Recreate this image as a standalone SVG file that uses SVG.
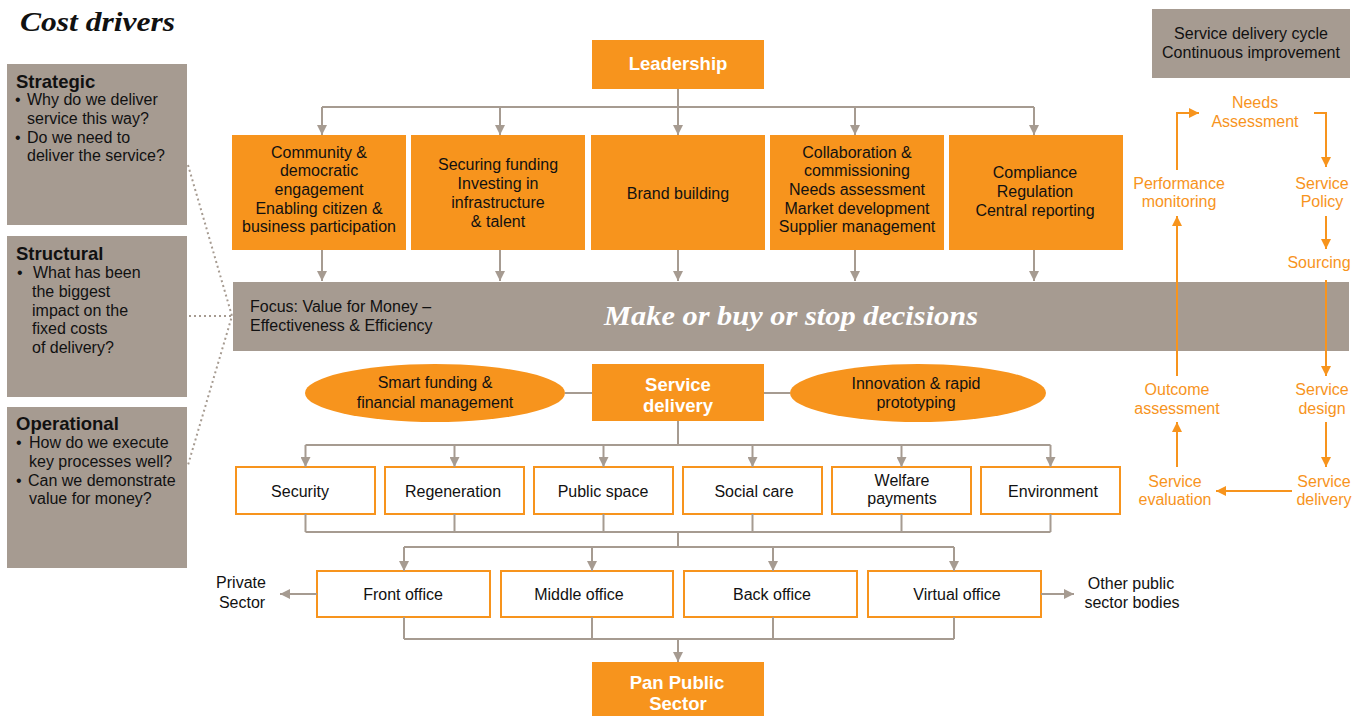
<svg xmlns="http://www.w3.org/2000/svg" width="1366" height="716" viewBox="0 0 1366 716">
<defs>
<marker id="ag" markerUnits="userSpaceOnUse" markerWidth="11" markerHeight="10" refX="10" refY="5" orient="auto"><path d="M0,0 L10,5 L0,10 z" fill="#a69b91"/></marker>
<marker id="ao" markerUnits="userSpaceOnUse" markerWidth="11" markerHeight="10" refX="10" refY="5" orient="auto"><path d="M0,0 L10,5 L0,10 z" fill="#f7941d"/></marker>
<style>
text{font-family:"Liberation Sans",Arial,sans-serif;font-size:16px;fill:#111}
.c{text-anchor:middle}
.b{font-weight:bold;font-size:18.5px}
.w{fill:#fff}
.o{fill:#f7941d}
.ser{font-family:"Liberation Serif","DejaVu Serif",serif;font-weight:bold;font-style:italic}
.gray{fill:#a69b91}
.orb{fill:#f7941d}
.wb{fill:#fff;stroke:#f7941d;stroke-width:2}
.lg{fill:none;stroke:#a69b91;stroke-width:2}
.lga{fill:none;stroke:#a69b91;stroke-width:2;marker-end:url(#ag)}
.loa{fill:none;stroke:#f7941d;stroke-width:2;marker-end:url(#ao)}
.dot{fill:none;stroke:#a69b91;stroke-width:2;stroke-dasharray:2 3}
</style>
</defs>
<rect width="1366" height="716" fill="#fff"/>
<text x="20" y="31" class="ser" style="font-size:28px;fill:#111" textLength="155" lengthAdjust="spacingAndGlyphs">Cost drivers</text>

<g id="strategic">
<rect x="7" y="64" width="180" height="161" class="gray"/>
<text x="16" y="88" class="b">Strategic</text>
<text x="15" y="105">•</text><text x="27" y="105">Why do we deliver</text>
<text x="27" y="124">service this way?</text>
<text x="15" y="143">•</text><text x="27" y="143">Do we need to</text>
<text x="27" y="161">deliver the service?</text>
</g>
<g id="structural">
<rect x="7" y="236" width="180" height="161" class="gray"/>
<text x="16" y="260" class="b">Structural</text>
<text x="17" y="278">•</text><text x="33" y="278">What has been</text>
<text x="32" y="297">the biggest</text>
<text x="32" y="316">impact on the</text>
<text x="32" y="334">fixed costs</text>
<text x="32" y="353">of delivery?</text>
</g>
<g id="operational">
<rect x="7" y="407" width="180" height="161" class="gray"/>
<text x="16" y="430" class="b">Operational</text>
<text x="16" y="448">•</text><text x="29" y="448">How do we execute</text>
<text x="29" y="467">key processes well?</text>
<text x="16" y="486">•</text><text x="28" y="486">Can we demonstrate</text>
<text x="29" y="504">value for money?</text>
</g>

<g id="dotted">
<path class="dot" d="M188,165 L232,316 L188,465 M189,316 H232"/>
</g>

<g id="leadership">
<rect x="592" y="40" width="172" height="49" class="orb"/>
<text x="678" y="70" class="c b w">Leadership</text>
</g>
<g id="community">
<rect x="232" y="135" width="174" height="115" class="orb"/>
<text class="c" x="319" y="158">Community &amp;</text>
<text class="c" x="319" y="176">democratic</text>
<text class="c" x="319" y="195">engagement</text>
<text class="c" x="319" y="214">Enabling citizen &amp;</text>
<text class="c" x="319" y="232">business participation</text>
</g>
<g id="funding">
<rect x="411" y="135" width="174" height="115" class="orb"/>
<text class="c" x="498" y="170">Securing funding</text>
<text class="c" x="498" y="189">Investing in</text>
<text class="c" x="498" y="208">infrastructure</text>
<text class="c" x="498" y="227">&amp; talent</text>
</g>
<g id="brand">
<rect x="591" y="135" width="174" height="115" class="orb"/>
<text class="c" x="678" y="199">Brand building</text>
</g>
<g id="collab">
<rect x="770" y="135" width="174" height="115" class="orb"/>
<text class="c" x="857" y="158">Collaboration &amp;</text>
<text class="c" x="857" y="176">commissioning</text>
<text class="c" x="857" y="195">Needs assessment</text>
<text class="c" x="857" y="214">Market development</text>
<text class="c" x="857" y="232">Supplier management</text>
</g>
<g id="compliance">
<rect x="949" y="135" width="174" height="115" class="orb"/>
<text class="c" x="1035" y="178">Compliance</text>
<text class="c" x="1035" y="197">Regulation</text>
<text class="c" x="1035" y="216">Central reporting</text>
</g>

<g id="focusbar">
<rect x="233" y="282" width="1116" height="69" class="gray"/>
<text x="250" y="312">Focus: Value for Money –</text>
<text x="250" y="331">Effectiveness &amp; Efficiency</text>
<text x="604" y="325" class="ser w" style="font-size:28px" textLength="374" lengthAdjust="spacingAndGlyphs">Make or buy or stop decisions</text>
</g>

<g id="smartfunding">
<ellipse cx="435" cy="393" rx="130" ry="29" class="orb"/>
<text class="c" x="435" y="388">Smart funding &amp;</text>
<text class="c" x="435" y="408">financial management</text>
</g>
<g id="servicedelivery">
<rect x="592" y="364" width="172" height="57" class="orb"/>
<text class="c b w" x="678" y="391">Service</text>
<text class="c b w" x="678" y="412">delivery</text>
</g>
<g id="innovation">
<ellipse cx="918" cy="393" rx="128" ry="29" class="orb"/>
<text class="c" x="916" y="389">Innovation &amp; rapid</text>
<text class="c" x="916" y="408">prototyping</text>
</g>

<g id="security"><rect x="236" y="467" width="139" height="47" class="wb"/><text class="c" x="300" y="497">Security</text></g>
<g id="regeneration"><rect x="385" y="467" width="139" height="47" class="wb"/><text class="c" x="453" y="497">Regeneration</text></g>
<g id="publicspace"><rect x="534" y="467" width="139" height="47" class="wb"/><text class="c" x="603" y="497">Public space</text></g>
<g id="socialcare"><rect x="683" y="467" width="139" height="47" class="wb"/><text class="c" x="754" y="497">Social care</text></g>
<g id="welfare"><rect x="832" y="467" width="139" height="47" class="wb"/><text class="c" x="902" y="486">Welfare</text><text class="c" x="902" y="504">payments</text></g>
<g id="environment"><rect x="981" y="467" width="139" height="47" class="wb"/><text class="c" x="1053" y="497">Environment</text></g>

<g id="frontoffice"><rect x="317" y="571" width="173" height="46" class="wb"/><text class="c" x="403" y="600">Front office</text></g>
<g id="middleoffice"><rect x="501" y="571" width="172" height="46" class="wb"/><text class="c" x="579" y="600">Middle office</text></g>
<g id="backoffice"><rect x="684" y="571" width="173" height="46" class="wb"/><text class="c" x="772" y="600">Back office</text></g>
<g id="virtualoffice"><rect x="868" y="571" width="173" height="46" class="wb"/><text class="c" x="957" y="600">Virtual office</text></g>

<g id="privatesector"><text class="c" x="241" y="588">Private</text><text class="c" x="242" y="608">Sector</text></g>
<g id="otherpublic"><text class="c" x="1131" y="589">Other public</text><text class="c" x="1132" y="608">sector bodies</text></g>

<g id="panpublic">
<rect x="592" y="662" width="172" height="54" class="orb"/>
<text class="c b w" x="677" y="689">Pan Public</text>
<text class="c b w" x="678" y="710">Sector</text>
</g>

<g id="cyclebox">
<rect x="1152" y="9" width="198" height="69" class="gray"/>
<text class="c" x="1251" y="39">Service delivery cycle</text>
<text class="c" x="1251" y="58">Continuous improvement</text>
</g>
<g id="cycle-labels">
<text class="c o" x="1255" y="108">Needs</text><text class="c o" x="1255" y="127">Assessment</text>
<text class="c o" x="1179" y="189">Performance</text><text class="c o" x="1179" y="207">monitoring</text>
<text class="c o" x="1322" y="189">Service</text><text class="c o" x="1322" y="207">Policy</text>
<text class="c o" x="1319" y="268">Sourcing</text>
<text class="c o" x="1177" y="395">Outcome</text><text class="c o" x="1177" y="414">assessment</text>
<text class="c o" x="1322" y="395">Service</text><text class="c o" x="1322" y="414">design</text>
<text class="c o" x="1175" y="487">Service</text><text class="c o" x="1175" y="505">evaluation</text>
<text class="c o" x="1324" y="487">Service</text><text class="c o" x="1324" y="505">delivery</text>
</g>

<g id="connectors">
<path class="lg" d="M678,89 V107 M322,107 H1034 M565,393 H592 M764,393 H790 M678,421 V445 M305.5,445 H1050.5 M305.5,514 V532 M454.5,514 V532 M603.5,514 V532 M752.5,514 V532 M901.5,514 V532 M1050.5,514 V532 M305.5,532 H1050.5 M678,532 V547 M404,547 H954 M404,617 V639 M592,617 V639 M773,617 V639 M954,617 V639 M404,639 H954"/>
<path class="lga" d="M322,107 V135"/>
<path class="lga" d="M500,107 V135"/>
<path class="lga" d="M678,107 V135"/>
<path class="lga" d="M855,107 V135"/>
<path class="lga" d="M1034,107 V135"/>
<path class="lga" d="M322,250 V281"/>
<path class="lga" d="M500,250 V281"/>
<path class="lga" d="M678,250 V281"/>
<path class="lga" d="M855,250 V281"/>
<path class="lga" d="M1034,250 V281"/>
<path class="lga" d="M305.5,445 V467"/>
<path class="lga" d="M454.5,445 V467"/>
<path class="lga" d="M603.5,445 V467"/>
<path class="lga" d="M752.5,445 V467"/>
<path class="lga" d="M901.5,445 V467"/>
<path class="lga" d="M1050.5,445 V467"/>
<path class="lga" d="M404,547 V571"/>
<path class="lga" d="M592,547 V571"/>
<path class="lga" d="M773,547 V571"/>
<path class="lga" d="M954,547 V571"/>
<path class="lga" d="M678,639 V662"/>
<path class="lga" d="M317,594 H280"/>
<path class="lga" d="M1041,594 H1074"/>
<path class="loa" d="M1177,170 V113 H1199"/>
<path class="loa" d="M1314,113 H1326 V167"/>
<path class="loa" d="M1326,216 V249"/>
<path class="loa" d="M1326,280 V376"/>
<path class="loa" d="M1326,422 V467"/>
<path class="loa" d="M1292,491 H1216"/>
<path class="loa" d="M1177,467 V422"/>
<path class="loa" d="M1177,376 V216"/>
</g>
</svg>
